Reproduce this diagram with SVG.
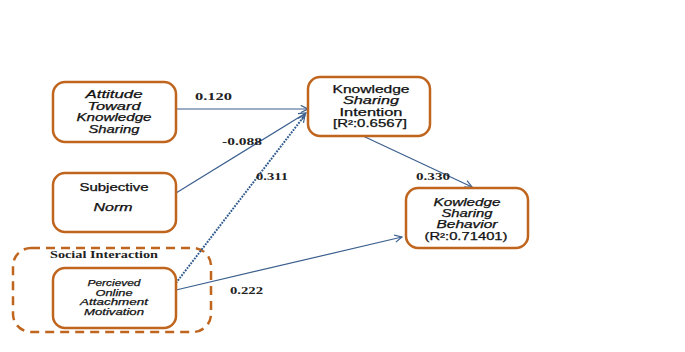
<svg xmlns="http://www.w3.org/2000/svg" width="685" height="352" viewBox="0 0 685 352">
<style>
.box{fill:#fff;stroke:#c0651e;stroke-width:2.5}
.grp{fill:none;stroke:#c0651e;stroke-width:2.5;stroke-dasharray:9 6}
.t{font-family:"Liberation Sans",Arial,sans-serif;font-size:10px;fill:#111;stroke:#111;stroke-width:0.25;text-anchor:middle}
.i{font-style:italic}
.s{font-size:9px}
.lbl{font-family:"Liberation Serif","Times New Roman",serif;font-size:10.5px;font-weight:bold;fill:#222}
.c{fill:none;stroke:#3b5f8e;stroke-width:1.2}
.d{stroke:#2f5a8e;stroke-dasharray:1.8 1.2;stroke-width:2}
</style>
<defs>
<marker id="ah" viewBox="0 0 10 10" refX="9" refY="5" markerWidth="9" markerHeight="9" markerUnits="userSpaceOnUse" orient="auto">
<path d="M1,1 L9,5 L1,9" fill="none" stroke="#3b5f8e" stroke-width="1.3"/>
</marker>
</defs>
<rect width="685" height="352" fill="#fff"/>
<g id="social-interaction">
<rect class="grp" x="13" y="248" width="198" height="84" rx="18"/>
<text x="104" y="258" font-family="Liberation Serif,Times New Roman,serif" font-size="10px" font-weight="bold" fill="#222" text-anchor="middle" textLength="108" lengthAdjust="spacingAndGlyphs">Social Interaction</text>
</g>
<g id="connectors">
<line class="c" x1="176" y1="109" x2="308" y2="109" marker-end="url(#ah)"/>
<line class="c" x1="176" y1="193" x2="306" y2="113" marker-end="url(#ah)"/>
<line class="c d" x1="176" y1="283" x2="305" y2="115" marker-end="url(#ah)"/>
<line class="c" x1="176" y1="290" x2="402" y2="237" marker-end="url(#ah)"/>
<line class="c" x1="363" y1="136" x2="472" y2="187" marker-end="url(#ah)"/>
<text class="lbl" x="195" y="100" textLength="37" lengthAdjust="spacingAndGlyphs">0.120</text>
<text class="lbl" x="222" y="145" textLength="40" lengthAdjust="spacingAndGlyphs">-0.088</text>
<text class="lbl" x="256" y="180" textLength="32" lengthAdjust="spacingAndGlyphs">0.311</text>
<text class="lbl" x="416" y="180" textLength="34" lengthAdjust="spacingAndGlyphs">0.330</text>
<text class="lbl" x="230" y="294" textLength="33" lengthAdjust="spacingAndGlyphs">0.222</text>
</g>
<g id="attitude">
<rect class="box" x="53" y="82" width="123" height="60" rx="12"/>
<text class="t i" x="114" y="98" textLength="57" lengthAdjust="spacingAndGlyphs">Attitude</text>
<text class="t i" x="114" y="109.5" textLength="53" lengthAdjust="spacingAndGlyphs">Toward</text>
<text class="t i" x="114" y="121" textLength="75" lengthAdjust="spacingAndGlyphs">Knowledge</text>
<text class="t i" x="114" y="132.5" textLength="51" lengthAdjust="spacingAndGlyphs">Sharing</text>
</g>
<g id="subjective-norm">
<rect class="box" x="53" y="173" width="123" height="59" rx="12"/>
<text class="t" x="114" y="190.5" textLength="69" lengthAdjust="spacingAndGlyphs">Subjective</text>
<text class="t i" x="113" y="211" textLength="39" lengthAdjust="spacingAndGlyphs">Norm</text>
</g>
<g id="perceived">
<rect class="box" x="53" y="268" width="123" height="60" rx="12"/>
<text class="t i s" x="114" y="286" textLength="53" lengthAdjust="spacingAndGlyphs">Percieved</text>
<text class="t i s" x="114" y="295.5" textLength="37" lengthAdjust="spacingAndGlyphs">Online</text>
<text class="t i s" x="114" y="305" textLength="68" lengthAdjust="spacingAndGlyphs">Attachment</text>
<text class="t i s" x="114" y="314.5" textLength="60" lengthAdjust="spacingAndGlyphs">Motivation</text>
</g>
<g id="intention">
<rect class="box" x="308" y="77" width="122" height="59" rx="12"/>
<text class="t" x="371" y="92.5" textLength="77" lengthAdjust="spacingAndGlyphs">Knowledge</text>
<text class="t i" x="371" y="104" textLength="56" lengthAdjust="spacingAndGlyphs">Sharing</text>
<text class="t" x="371" y="115.5" textLength="63" lengthAdjust="spacingAndGlyphs">Intention</text>
<text class="t" x="370" y="127" textLength="74" lengthAdjust="spacingAndGlyphs">[R²:0.6567]</text>
</g>
<g id="behavior">
<rect class="box" x="406" y="188" width="122" height="60" rx="12"/>
<text class="t i" x="467" y="205.5" textLength="67" lengthAdjust="spacingAndGlyphs">Kowledge</text>
<text class="t i" x="467" y="217" textLength="51" lengthAdjust="spacingAndGlyphs">Sharing</text>
<text class="t i" x="467" y="228" textLength="61" lengthAdjust="spacingAndGlyphs">Behavior</text>
<text class="t" x="466" y="239.5" textLength="83" lengthAdjust="spacingAndGlyphs">(R²:0.71401)</text>
</g>
</svg>
